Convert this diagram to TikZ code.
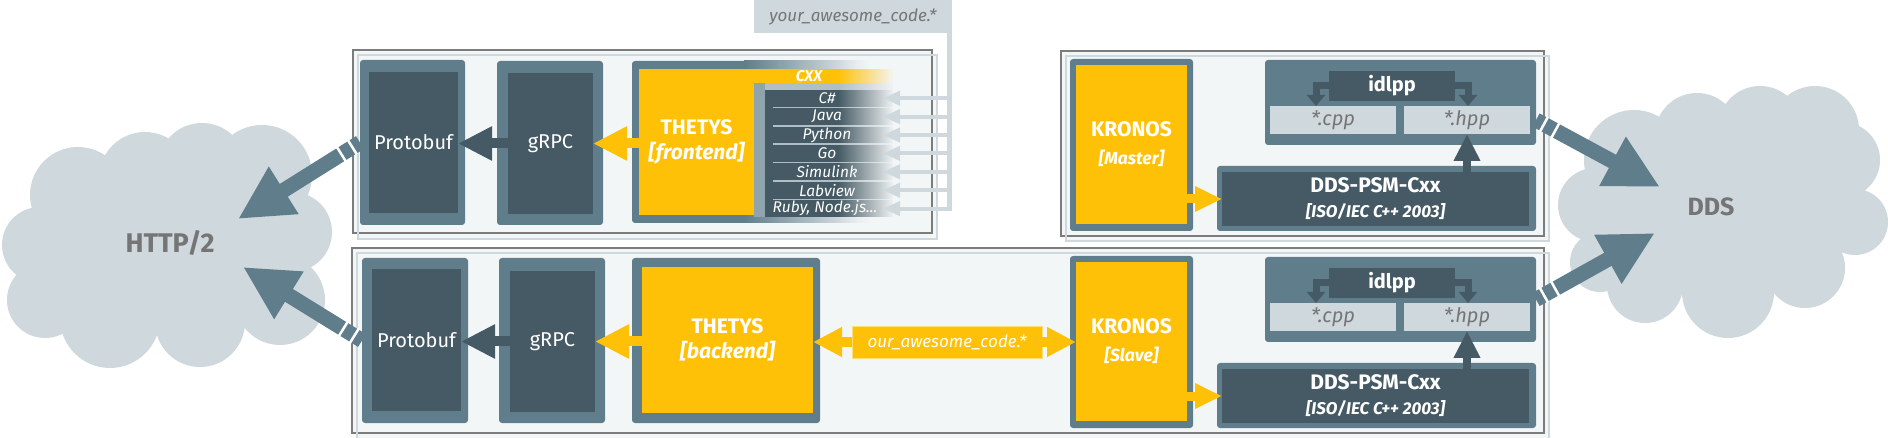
\documentclass[tikz,border=0pt]{standalone}
\usepackage{fontspec}
\setmainfont{Fira Sans}
\usetikzlibrary{arrows.meta,fadings,calc}
\definecolor{bgrey}{HTML}{607D8B}
\definecolor{dgrey}{HTML}{455A64}
\definecolor{lgrey}{HTML}{CFD8DC}
\definecolor{mgrey}{HTML}{B0BEC5}
\definecolor{sgrey}{HTML}{90A4AE}
\definecolor{amber}{HTML}{FFC107}
\definecolor{tgrey}{HTML}{757575}
\definecolor{framebg}{HTML}{F3F6F7}
\definecolor{frameline}{HTML}{7C7C7C}
\tikzfading[name=fadeinright, left color=transparent!100, right color=transparent!0]
\newcommand\brkmarks[2]{%
  \foreach \d in {9pt,22pt}{%
    \draw[white,line width=2.5pt] ($(#1)!\d!(#2)!8.5pt!90:(#2)$) -- ($(#1)!\d!(#2)!8.5pt!-90:(#2)$);}}
\begin{document}
\begin{tikzpicture}[x=1pt,y=-1pt,
  every node/.style={inner sep=0pt,outer sep=0pt},
  sz/.style 2 args={minimum width=#1pt,minimum height=#2pt},
  obox/.style={fill=bgrey,rounded corners=3pt},
  dbox/.style={fill=dgrey,text=white},
  ybox/.style={fill=amber,text=white,align=center},
  fbox/.style={fill=lgrey,text=tgrey,font=\fontsize{20}{24}\selectfont\itshape},
  lbl/.style={font=\fontsize{20}{24}\selectfont},
  ttl/.style={font=\fontsize{21}{25}\selectfont\bfseries,align=center},
  langtxt/.style={text=white,font=\fontsize{15.5}{17}\selectfont\itshape},
  darr/.style={draw=dgrey,line width=10pt,-{Triangle[length=34pt,width=32pt]}},
  yarr/.style={draw=amber,line width=10pt,-{Triangle[length=34pt,width=32pt]}},
  yarrb/.style={draw=amber,line width=10pt,-{Triangle[length=29pt,width=28pt]}},
  yarrc/.style={draw=amber,line width=9pt,-{Triangle[length=27pt,width=24pt]}},
  darrc/.style={draw=dgrey,line width=8pt,-{Triangle[length=27pt,width=25pt]}},
  bentarr/.style={draw=dgrey,line width=7pt,-{Triangle[length=11pt,width=18pt]}},
  langarr/.style={draw=lgrey,line width=4pt,-{Triangle[length=17pt,width=14pt]}},
  bigarr/.style={draw=bgrey,line width=15pt,-{Triangle[length=54pt,width=52pt]}},
  cloudtxt/.style={text=tgrey,font=\bfseries}
]
\useasboundingbox (0,0) rectangle (1888,438);
\fill[white] (0,0) rectangle (1888,438);

% ---------- panels ----------
\fill[framebg] (358,55) rectangle (937,239);
\fill[framebg] (353,50) rectangle (932,233);
\draw[frameline,line width=1.2pt] (353,50) rectangle (932,233);
\draw[lgrey,line width=1.2pt] (358,55) rectangle (937,239);

\fill[framebg] (1066,56) rectangle (1549,241);
\fill[framebg] (1061,51) rectangle (1544,236);
\draw[frameline,line width=1.2pt] (1061,51) rectangle (1544,236);
\draw[lgrey,line width=1.2pt] (1066,56) rectangle (1549,241);

\fill[framebg] (357,253) rectangle (1549,440);
\fill[framebg] (352,248) rectangle (1544,433);
\draw[frameline,line width=1.2pt] (352,248) rectangle (1544,433);
\draw[lgrey,line width=1.2pt] (357,253) rectangle (1549,440);

% ---------- clouds ----------
\fill[lgrey] (40,245) circle[radius=38pt] (78,195) circle[radius=48pt]
  (145,178) circle[radius=46pt] (202,167) circle[radius=44pt]
  (262,175) circle[radius=50pt] (292,232) circle[radius=40pt]
  (280,300) circle[radius=45pt] (200,322) circle[radius=45pt]
  (110,318) circle[radius=50pt] (45,300) circle[radius=38pt]
  (170,250) ellipse[x radius=130pt,y radius=80pt];
\node[cloudtxt,font=\fontsize{27}{30}\selectfont\bfseries] (http) at (170,243) {HTTP/2};

\fill[lgrey] (1595,205) circle[radius=37pt] (1634,160) circle[radius=50pt]
  (1697,135) circle[radius=42pt] (1760,128) circle[radius=42pt]
  (1815,130) circle[radius=44pt] (1842,160) circle[radius=38pt]
  (1855,222) circle[radius=33pt] (1805,268) circle[radius=40pt]
  (1728,292) circle[radius=46pt] (1645,285) circle[radius=38pt]
  (1600,262) circle[radius=30pt]
  (1725,210) ellipse[x radius=115pt,y radius=80pt];
\node[cloudtxt,font=\fontsize{25}{28}\selectfont\bfseries] (dds) at (1711,207) {DDS};

% ---------- top-left: frontend ----------
\node[obox,sz={105}{165}] (protoTo) at (412.5,142.5) {};
\node[dbox,lbl,sz={89}{141}] (protoTi) at (413.5,142.5) {Protobuf};
\node[obox,sz={106}{164}] (grpcTo) at (550,143) {};
\node[dbox,lbl,sz={85}{141}] (grpcTi) at (550.5,143.5) {gRPC};

\fill[bgrey,rounded corners=3pt] (632,61) rectangle (748,223);
\shade[left color=bgrey,right color=framebg] (744,61) rectangle (870,69);
\shade[left color=bgrey,right color=framebg] (744,216) rectangle (870,223);
\node[ybox,ttl,sz={115}{146}] (thetysFi) at (696.5,142) {THETYS\\{\itshape [frontend]}};
\fill[amber] (754,69) rectangle (893,83);
\fill[sgrey] (754,83) rectangle (765,217);
\fill[mgrey] (765,83) rectangle (893,217);
\fill[dgrey] (765,90) rectangle (773,217);
\foreach \i in {0,...,6}{\fill[dgrey] (773,{89.9+18.4*\i}) rectangle (893,{106.6+18.4*\i});}
\node[langtxt,font=\fontsize{15.5}{17}\selectfont\bfseries\itshape] (lX) at (809,76) {CXX};
\node[langtxt] (lC) at (827,98.2) {C\#};
\node[langtxt] (lJ) at (827,116.6) {Java};
\node[langtxt] (lP) at (827,135) {Python};
\node[langtxt] (lG) at (827,153.4) {Go};
\node[langtxt] (lS) at (827,171.8) {Simulink};
\node[langtxt] (lL) at (827,190.2) {Labview};
\node[langtxt] (lR) at (825,208.6) {Ruby, Node.js...};
\fill[framebg,path fading=fadeinright] (838,57) rectangle (894,226);

\node[fill=lgrey,text=tgrey,sz={198}{33},font=\fontsize{17}{20}\selectfont\itshape] (yourcode) at (853,16.5) {your\_awesome\_code.*};
\coordinate (tk) at ($(yourcode.south east)+(-2.5,0)$);
\coordinate (tipx) at (883,0);
\draw[lgrey,line width=5pt] (tk) -- ($(tk |- lR)+(0,2.5)$);
\foreach \n in {lC,lJ,lP,lG,lS,lL,lR}{\draw[langarr] (tk |- \n) -- (tipx |- \n);}

\draw[darr] (grpcTi.west) -- (grpcTi.west -| protoTi.east);
\draw[yarr] (thetysFi.west |- grpcTi.west) -- (grpcTi.east);

% ---------- bottom: backend ----------
\node[obox,sz={106}{165}] (protoBo) at (415,340.5) {};
\node[dbox,lbl,sz={89}{142}] (protoBi) at (416.5,340) {Protobuf};
\node[obox,sz={106}{165}] (grpcBo) at (552,340.5) {};
\node[dbox,lbl,sz={85}{141}] (grpcBi) at (552.5,341.5) {gRPC};
\node[obox,sz={188}{165}] (thetysBo) at (726,340.5) {};
\node[ybox,ttl,sz={171}{146}] (thetysBi) at (727.5,340) {THETYS\\{\itshape [backend]}};
\node[fill=amber,draw=amber!55!white,line width=0.8pt,text=white,sz={190}{32},font=\fontsize{17}{20}\selectfont\itshape] (ourcode) at (947,342) {our\_awesome\_code.*};

\draw[darr] (grpcBi.west) -- (grpcBi.west -| protoBi.east);
\draw[yarr] (thetysBi.west |- grpcBi.west) -- (grpcBi.east);
\draw[yarrb] (ourcode.west) -- (ourcode.west -| thetysBi.east);

% ---------- KRONOS slave ----------
\node[obox,sz={123}{172}] (kronSo) at (1131.5,342) {};
\node[ybox,ttl,sz={111}{159}] (kronSi) at (1131.5,341.5) {KRONOS\\[3pt]{\fontsize{17.5}{20}\selectfont\itshape [Slave]}};
\draw[yarrb] (ourcode.east) -- (ourcode.east -| kronSi.west);

\node[obox,sz={319}{65}] (ddsBo) at (1376.5,395.5) {};
\node[dbox,ttl,sz={307}{54}] (ddsBi) at (1375.5,396) {DDS-PSM-Cxx\\{\fontsize{17}{20}\selectfont\itshape [ISO/IEC C++ 2003]}};
\node[obox,sz={271}{85}] (idlBo) at (1400.5,299.5) {};
\node[dbox,sz={126}{30},font=\fontsize{20}{24}\selectfont\bfseries] (barB) at (1392,283) {idlpp};
\node[fbox,sz={126}{28}] (cppB) at (1333,317) {*.cpp};
\node[fbox,sz={126}{28}] (hppB) at (1467,317) {*.hpp};
\coordinate (cBL) at ($(barB.west)+(-13,0)$);
\coordinate (cBR) at ($(barB.east)+(13,0)$);
\draw[bentarr] (barB.west) -- (cBL) -- (cBL |- cppB.north);
\draw[bentarr] (barB.east) -- (cBR) -- (cBR |- hppB.north);
\draw[yarrc] (kronSi.east |- ddsBi.west) -- (ddsBi.west);
\draw[darrc] (hppB.south |- ddsBi.north) -- (hppB.south);

% ---------- KRONOS master ----------
\node[obox,sz={123}{172}] (kronTo) at (1131.5,145) {};
\node[ybox,ttl,sz={111}{159}] (kronTi) at (1131.5,144.5) {KRONOS\\[3pt]{\fontsize{17.5}{20}\selectfont\itshape [Master]}};
\node[obox,sz={319}{65}] (ddsTo) at (1376.5,198.5) {};
\node[dbox,ttl,sz={307}{54}] (ddsTi) at (1375.5,199) {DDS-PSM-Cxx\\{\fontsize{17}{20}\selectfont\itshape [ISO/IEC C++ 2003]}};
\node[obox,sz={271}{85}] (idlTo) at (1400.5,102.5) {};
\node[dbox,sz={126}{30},font=\fontsize{20}{24}\selectfont\bfseries] (barT) at (1392,86) {idlpp};
\node[fbox,sz={126}{28}] (cppT) at (1333,120) {*.cpp};
\node[fbox,sz={126}{28}] (hppT) at (1467,120) {*.hpp};
\coordinate (cTL) at ($(barT.west)+(-13,0)$);
\coordinate (cTR) at ($(barT.east)+(13,0)$);
\draw[bentarr] (barT.west) -- (cTL) -- (cTL |- cppT.north);
\draw[bentarr] (barT.east) -- (cTR) -- (cTR |- hppT.north);
\draw[yarrc] (kronTi.east |- ddsTi.west) -- (ddsTi.west);
\draw[darrc] (hppT.south |- ddsTi.north) -- (hppT.south);

% ---------- big arrows ----------
\coordinate (httpTtip) at (238,219);
\coordinate (httpBtip) at (243,267);
\coordinate (ddsTtip) at (1660,187);
\coordinate (ddsBtip) at (1655,233);
\coordinate (pTs) at (protoTo.west);
\coordinate (pBs) at (protoBo.west);
\coordinate (dTs) at (idlTo.east |- hppT.east);
\coordinate (dBs) at (idlBo.east);
\draw[bigarr] (pTs) -- (httpTtip);
\draw[bigarr] (pBs) -- (httpBtip);
\draw[bigarr] (dTs) -- (ddsTtip);
\draw[bigarr] (dBs) -- (ddsBtip);
\brkmarks{pTs}{httpTtip}
\brkmarks{pBs}{httpBtip}
\brkmarks{dTs}{ddsTtip}
\brkmarks{dBs}{ddsBtip}
\end{tikzpicture}
\end{document}
